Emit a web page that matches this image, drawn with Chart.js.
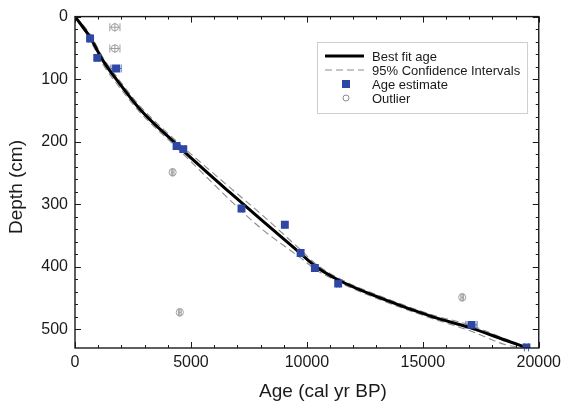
<!DOCTYPE html>
<html>
<head>
<meta charset="utf-8">
<script src="https://cdn.jsdelivr.net/npm/chart.js@4"></script>
<style>
  html, body { margin: 0; padding: 0; background: #fff; }
  #wrap { width: 566px; height: 402px; }
</style>
</head>
<body>
<div id="wrap"><canvas id="ageDepth" width="566" height="402"></canvas></div>
<script>
// best fit age-depth model
const fitAge   = [0, 650, 1200, 1940, 2800, 4400, 5600, 6700, 8000, 9700, 10400, 11400, 13100, 15500, 17000, 18600, 19450];
const fitDepth = [0, 33, 70, 108, 148, 205, 246, 282, 324, 378, 400, 422, 449, 481, 497, 518, 529];
// 95% confidence envelopes (same ages as fit)
const ciLowDepth  = [0, 38, 76, 114, 153, 210, 254, 294, 338, 385, 405, 425, 452, 484, 502, 525, 530];
const ciHighDepth = [0, 28, 65, 103, 143, 200, 239, 274, 315, 372, 396, 419, 446, 478, 493, 516, 528];

// dated samples
const estAge      = [650, 960, 1770, 4380, 4670, 7180, 9050, 9730, 10345, 11350, 17100, 19470];
const estDepth    = [35, 66, 83, 207, 212, 307, 333, 378, 402, 427, 493, 529];
const estAgeErr   = [60, 60, 220, 80, 80, 60, 60, 60, 60, 60, 240, 90];
const estDepthErr = [3, 3, 3, 3, 3, 3, 3, 3, 3, 3, 3, 3];

const outAge      = [1720, 1720, 4210, 4520, 16700];
const outDepth    = [17, 51, 249, 473, 449];
const outAgeErr   = [220, 220, 60, 60, 60];
const outDepthErr = [7, 7, 7, 7, 7];

const xMajor = [0, 5000, 10000, 15000, 20000];
const yMajor = [0, 100, 200, 300, 400, 500];

const pts = (xs, ys) => xs.map((v, i) => ({ x: v, y: ys[i] }));

const INK = '#1a1a1a';
const BLUE = '#2e47a5';
const GREY = '#8c8c8c';
const FONT = '"Liberation Sans", Arial, Helvetica, sans-serif';

const errorBars = {
  id: 'errorBars',
  beforeDatasetsDraw(chart) {
    const { ctx, scales: { x, y } } = chart;
    const draw = (ages, depths, aErr, dErr, color) => {
      ctx.save();
      ctx.strokeStyle = color;
      ctx.lineWidth = 1;
      ctx.beginPath();
      ages.forEach((a, i) => {
        const px = x.getPixelForValue(a);
        const py = y.getPixelForValue(depths[i]);
        const x0 = x.getPixelForValue(a - aErr[i]);
        const x1 = x.getPixelForValue(a + aErr[i]);
        const y0 = y.getPixelForValue(depths[i] - dErr[i]);
        const y1 = y.getPixelForValue(depths[i] + dErr[i]);
        ctx.moveTo(x0, py); ctx.lineTo(x1, py);
        ctx.moveTo(x0, py - 4); ctx.lineTo(x0, py + 4);
        ctx.moveTo(x1, py - 4); ctx.lineTo(x1, py + 4);
        ctx.moveTo(px, y0); ctx.lineTo(px, y1);
      });
      ctx.stroke();
      ctx.restore();
    };
    draw(outAge, outDepth, outAgeErr, outDepthErr, '#a0a0a0');
    draw(estAge, estDepth, estAgeErr, estDepthErr, '#4a62bd');
  }
};

const frameTicks = {
  id: 'frameTicks',
  afterDraw(chart) {
    const { ctx, chartArea: a, scales: { x, y } } = chart;
    ctx.save();
    ctx.strokeStyle = INK;
    ctx.lineWidth = 1;
    ctx.beginPath();
    x.ticks.forEach(t => {
      if (t.value % 1000) return;
      const len = xMajor.includes(t.value) ? 6 : 3;
      const px = Math.round(x.getPixelForValue(t.value)) + 0.5;
      ctx.moveTo(px, a.bottom); ctx.lineTo(px, a.bottom - len);
      ctx.moveTo(px, a.top); ctx.lineTo(px, a.top + len);
    });
    y.ticks.forEach(t => {
      if (t.value % 20) return;
      const len = yMajor.includes(t.value) ? 6 : 3;
      const py = Math.round(y.getPixelForValue(t.value)) + 0.5;
      ctx.moveTo(a.left, py); ctx.lineTo(a.left + len, py);
      ctx.moveTo(a.right, py); ctx.lineTo(a.right - len, py);
    });
    ctx.stroke();
    ctx.lineWidth = 1.4;
    ctx.strokeRect(a.left, a.top, a.right - a.left, a.bottom - a.top);

    // axis titles
    ctx.fillStyle = INK;
    ctx.font = '19px ' + FONT;
    ctx.textAlign = 'center';
    ctx.textBaseline = 'alphabetic';
    ctx.fillText('Age (cal yr BP)', 323, 397);
    ctx.translate(22, 187);
    ctx.rotate(-Math.PI / 2);
    ctx.fillText('Depth (cm)', 0, 0);
    ctx.restore();

    // legend box
    ctx.save();
    ctx.fillStyle = '#fff';
    ctx.strokeStyle = '#cfcfcf';
    ctx.lineWidth = 1;
    ctx.fillRect(317, 42, 210, 71);
    ctx.strokeRect(317.5, 42.5, 210, 71);
    const ds = chart.data.datasets;
    const rows = [ds[2], ds[3], ds[0], ds[1]];
    ctx.font = '13px ' + FONT;
    ctx.textAlign = 'left';
    ctx.textBaseline = 'middle';
    rows.forEach((d, i) => {
      const cy = 56 + i * 14;
      ctx.save();
      if (i === 0 || i === 1) {
        ctx.strokeStyle = d.borderColor;
        ctx.lineWidth = d.borderWidth;
        ctx.setLineDash(d.borderDash || []);
        ctx.beginPath();
        ctx.moveTo(325, cy); ctx.lineTo(364, cy);
        ctx.stroke();
      } else if (i === 2) {
        ctx.fillStyle = BLUE;
        ctx.fillRect(342, cy - 4, 8, 8);
      } else {
        ctx.strokeStyle = GREY;
        ctx.beginPath();
        ctx.arc(346, cy, 3, 0, Math.PI * 2);
        ctx.stroke();
      }
      ctx.restore();
      ctx.fillStyle = INK;
      ctx.fillText(d.label, 372, cy + 1);
    });
    ctx.restore();
  }
};

new Chart(document.getElementById('ageDepth'), {
  type: 'scatter',
  data: {
    datasets: [
      {
        label: 'Age estimate',
        data: pts(estAge, estDepth),
        pointStyle: 'rect',
        pointRadius: 5.6,
        backgroundColor: BLUE,
        borderColor: BLUE,
        borderWidth: 0,
        order: 0
      },
      {
        label: 'Outlier',
        data: pts(outAge, outDepth),
        pointStyle: 'circle',
        pointRadius: 3.6,
        backgroundColor: 'rgba(255,255,255,0)',
        borderColor: '#a0a0a0',
        borderWidth: 1,
        order: 1
      },
      {
        label: 'Best fit age',
        data: pts(fitAge, fitDepth),
        showLine: true,
        pointRadius: 0,
        borderColor: '#000',
        borderWidth: 3,
        cubicInterpolationMode: 'monotone',
        order: 2
      },
      {
        label: '95% Confidence Intervals',
        data: pts(fitAge, ciLowDepth),
        showLine: true,
        pointRadius: 0,
        borderColor: GREY,
        borderWidth: 1.1,
        borderDash: [7, 4],
        cubicInterpolationMode: 'monotone',
        order: 3
      },
      {
        label: '95% Confidence Intervals (upper)',
        data: pts(fitAge, ciHighDepth),
        showLine: true,
        pointRadius: 0,
        borderColor: GREY,
        borderWidth: 1.1,
        borderDash: [7, 4],
        cubicInterpolationMode: 'monotone',
        order: 4
      }
    ]
  },
  options: {
    responsive: false,
    animation: false,
    layout: { padding: { top: 14, right: 27, left: 0, bottom: 0 } },
    plugins: { legend: { display: false }, tooltip: { enabled: false } },
    scales: {
      x: {
        type: 'linear',
        min: 0,
        max: 20000,
        grid: { display: false, drawTicks: false },
        border: { display: false },
        afterFit: s => { s.height = 54; },
        ticks: {
          stepSize: 1000,
          autoSkip: false,
          maxRotation: 0,
          padding: 5,
          color: INK,
          font: { family: FONT, size: 16 },
          callback: v => (xMajor.includes(v) ? String(v) : '')
        }
      },
      y: {
        type: 'linear',
        reverse: true,
        min: 0,
        max: 530,
        grid: { display: false, drawTicks: false },
        border: { display: false },
        afterFit: s => { s.width = 75; },
        ticks: {
          stepSize: 20,
          autoSkip: false,
          padding: 7,
          color: INK,
          font: { family: FONT, size: 16 },
          callback: v => (yMajor.includes(v) ? String(v) : '')
        }
      }
    }
  },
  plugins: [errorBars, frameTicks]
});
</script>
</body>
</html>
